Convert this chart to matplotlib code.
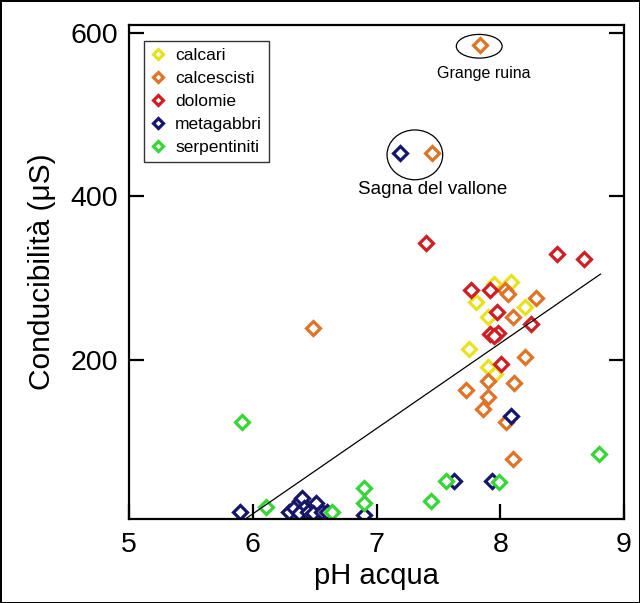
import matplotlib.pyplot as plt
from matplotlib.patches import Ellipse
import numpy as np

plt.rcParams['font.family'] = ['Liberation Sans', 'DejaVu Sans']

# pH acqua / conducibilita' per litologia
calcari_ph = [7.95, 8.09, 7.80, 8.20, 7.90, 7.75, 7.90, 7.96]
calcari_cond = [293, 295, 271, 265, 253, 213, 191, 182]

calcescisti_ph = [8.04, 8.06, 8.29, 8.10, 8.20, 7.90, 8.11, 7.72, 7.90, 7.86,
                  8.05, 8.10, 6.49, 7.45, 7.84]
calcescisti_cond = [286, 281, 276, 253, 203, 174, 172, 163, 155, 140,
                    124, 78, 239, 453, 586]

dolomie_ph = [8.46, 8.68, 7.76, 7.92, 7.97, 8.25, 7.92, 7.98, 7.95, 8.01, 7.40]
dolomie_cond = [330, 324, 286, 286, 258, 244, 231, 233, 229, 195, 343]

metagabbri_ph = [5.90, 6.29, 6.33, 6.38, 6.40, 6.41, 6.37, 6.45, 6.51, 6.49,
                 6.56, 6.60, 6.90, 7.19, 7.63, 7.93, 8.09]
metagabbri_cond = [14, 13, 19, 27, 31, 18, 12, 14, 24, 12,
                   13, 13, 10, 453, 51, 52, 131]

serpentiniti_ph = [5.91, 6.11, 6.64, 6.90, 6.90, 7.44, 7.56, 7.99, 8.80]
serpentiniti_cond = [124, 20, 13, 43, 25, 27, 52, 50, 84]

# retta di regressione
fit_slope = 104.5
fit_intercept = -615.7
fit_range = [5.9, 8.81]

series = [
    ('calcari', calcari_ph, calcari_cond, '#e8e21c'),
    ('calcescisti', calcescisti_ph, calcescisti_cond, '#e07326'),
    ('dolomie', dolomie_ph, dolomie_cond, '#d11d24'),
    ('metagabbri', metagabbri_ph, metagabbri_cond, '#16166b'),
    ('serpentiniti', serpentiniti_ph, serpentiniti_cond, '#35d635'),
]


def run():
    fig = plt.figure(figsize=(6.4, 6.03), dpi=100, edgecolor='black', linewidth=2)
    ax = fig.add_axes([0.2016, 0.1393, 0.7734, 0.8192])

    for name, xs, ys, color in series:
        ax.plot(xs, ys, linestyle='none', marker='D', markersize=6.8,
                markerfacecolor='white', markeredgecolor=color,
                markeredgewidth=2.3, label=name)

    fx = np.array(fit_range)
    ax.plot(fx, fit_slope * fx + fit_intercept, color='black', linewidth=0.9)

    ax.add_patch(Ellipse((7.83, 584), 0.37, 29, fill=False, edgecolor='black', linewidth=0.9))
    ax.add_patch(Ellipse((7.31, 451), 0.45, 61, fill=False, edgecolor='black', linewidth=0.9))
    ax.text(7.87, 551, 'Grange ruina', ha='center', va='center', fontsize=11.5)
    ax.text(7.45, 408, 'Sagna del vallone', ha='center', va='center', fontsize=13.5)

    ax.set_xlim(5, 9)
    ax.set_ylim(5, 610)
    ax.set_xticks([5, 6, 7, 8, 9])
    ax.set_yticks([200, 400, 600])
    ax.tick_params(direction='in', length=11, width=1.6, labelsize=20.5, right=True)
    ax.tick_params(axis='x', pad=9)
    ax.tick_params(axis='y', pad=8)
    for sp in ax.spines.values():
        sp.set_linewidth(1.6)

    ax.set_xlabel('pH acqua', fontsize=21, labelpad=3)
    ax.set_ylabel('Conducibilità (μS)', fontsize=21.5, labelpad=10)

    leg = ax.legend(loc='upper left', bbox_to_anchor=(0.03, 0.968), fontsize=12.5,
                    frameon=True, fancybox=False, handlelength=0.8,
                    handletextpad=0.6, borderpad=0.4, labelspacing=0.45,
                    borderaxespad=0, markerscale=0.8)
    leg.get_frame().set_edgecolor('black')
    leg.get_frame().set_linewidth(1.0)

    fig.savefig('out.png', dpi=100)


if __name__ == '__main__':
    run()
